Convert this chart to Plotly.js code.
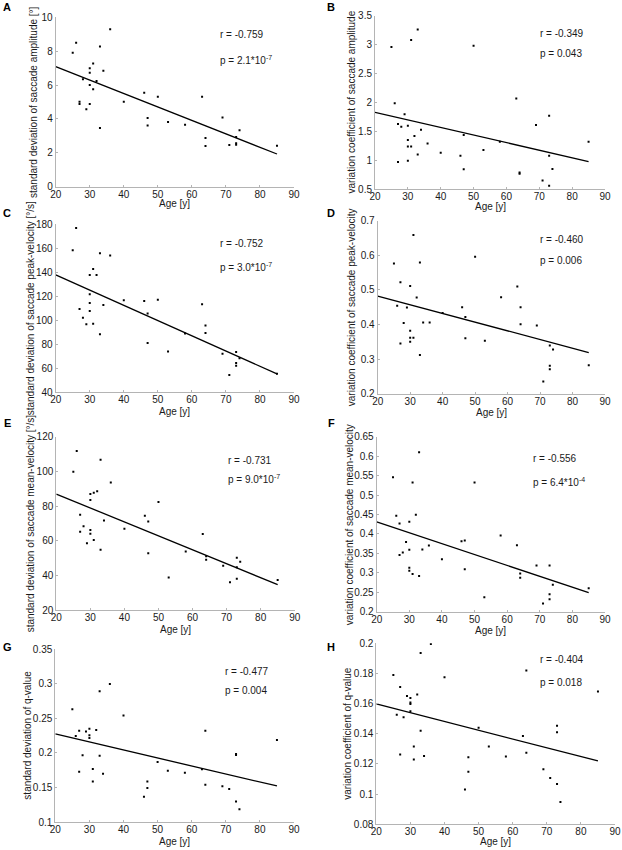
<!DOCTYPE html>
<html>
<head>
<meta charset="utf-8">
<script src="https://cdn.plot.ly/plotly-3.0.1.min.js"></script>
<style>
  html, body { margin: 0; padding: 0; background: #fff; }
  #chart { width: 622px; height: 850px; }
</style>
</head>
<body>
<div id="chart"></div>
<script>
// ages [y] and values
const ageA = [25,26,36,33,31,30,30,34,28,32,30,31,27,27,30,29,33,40,46,50,47,47,53,58,63,64,64,69,71,73,73,73,74,85];
const valA = [7.91,8.5,9.29,8.27,7.28,6.99,6.73,6.85,6.34,6.24,6.0,5.75,5.02,4.88,4.88,4.57,3.46,5.02,5.55,5.31,4.06,3.62,3.82,3.66,5.31,2.87,2.40,4.09,2.46,2.93,2.56,2.48,3.33,2.42];

const ageB = [25,31,33,50,26,29,27,28,30,34,30,32,30,31,36,33,27,30,40,46,47,47,53,58,63,64,64,69,71,73,73,73,74,85];
const valB = [2.96,3.08,3.26,2.98,1.985,1.795,1.63,1.58,1.60,1.53,1.35,1.42,1.24,1.24,1.29,1.10,0.97,0.995,1.13,1.08,1.44,0.845,1.18,1.32,2.07,0.79,0.77,1.61,0.65,1.77,1.08,0.56,0.85,1.32];

const ageC = [25,26,33,36,31,30,32,30,30,30,34,27,28,29,31,33,40,46,50,47,47,53,58,63,64,64,69,71,73,73,73,74,85];
const valC = [158.3,177,155.8,153.9,142.8,137.8,137.8,121.7,114.4,107.8,112.8,109.4,102.2,96.7,97.2,88.3,116.7,116.1,117.2,105.6,81.1,73.9,88.9,113.3,95.6,89.4,72.2,54.4,73.6,64.4,62.2,68.3,55.5];

const ageD = [25,31,33,50,27,30,26,29,32,28,34,36,30,30,31,30,27,33,40,46,47,47,53,58,63,64,64,69,71,73,73,73,74,85];
const valD = [0.576,0.659,0.579,0.596,0.522,0.511,0.454,0.449,0.478,0.404,0.406,0.406,0.382,0.362,0.362,0.350,0.345,0.312,0.433,0.450,0.422,0.360,0.353,0.479,0.510,0.450,0.401,0.397,0.235,0.339,0.281,0.271,0.328,0.282];

const ageE = [25,26,33,36,32,31,30,30,27,34,28,30,30,27,31,29,33,40,46,47,47,50,53,58,63,64,64,69,71,73,73,73,74,85];
const valE = [99.8,111.7,106.7,93.5,88.5,87.7,86.9,83.5,75.0,71.7,68.3,66.2,64.0,65.2,60.4,58.5,54.8,66.9,74.4,71.0,52.7,82.3,38.7,53.7,63.8,49.0,51.0,45.6,36.0,50.2,44.6,38.1,47.9,37.3];

const ageF = [25,33,31,50,26,32,27,30,29,30,28,27,34,36,30,30,31,33,40,46,47,47,53,58,63,64,64,69,71,73,73,73,74,85];
const valF = [0.546,0.610,0.532,0.532,0.447,0.449,0.427,0.431,0.379,0.359,0.352,0.346,0.360,0.370,0.313,0.305,0.297,0.292,0.335,0.381,0.383,0.309,0.237,0.396,0.371,0.298,0.287,0.319,0.221,0.319,0.245,0.232,0.269,0.260];

const ageG = [25,36,33,40,27,26,29,30,30,30,32,28,33,31,34,27,31,50,53,58,47,47,46,63,64,64,69,71,73,73,73,74,85];
const valG = [0.263,0.2995,0.289,0.254,0.232,0.2245,0.231,0.235,0.2255,0.2216,0.233,0.1966,0.196,0.177,0.170,0.173,0.159,0.187,0.1745,0.1716,0.1587,0.1495,0.137,0.1764,0.232,0.154,0.152,0.148,0.1986,0.197,0.130,0.119,0.2188];

const ageH = [25,36,33,40,64,27,29,32,30,30,30,30,26,28,33,31,31,27,34,50,53,58,63,64,47,47,46,69,71,73,73,73,74,85];
const valH = [0.179,0.1996,0.1936,0.1775,0.1819,0.171,0.165,0.166,0.1638,0.1607,0.1598,0.155,0.1527,0.151,0.142,0.1315,0.1229,0.1262,0.1253,0.144,0.1315,0.1249,0.1386,0.1275,0.1244,0.1149,0.103,0.1165,0.1107,0.1454,0.141,0.1067,0.0948,0.168];

// regression lines, value at age 20 and age 85
const fitAge = [20, 85];
const fitA = [7.09, 1.93];
const fitB = [1.83, 0.98];
const fitC = [137.8, 55.3];
const fitD = [0.482, 0.319];
const fitE = [86.9, 34.6];
const fitF = [0.431, 0.249];
const fitG = [0.2274, 0.1524];
const fitH = [0.1598, 0.122];

const letters = ["A", "B", "C", "D", "E", "F", "G", "H"];
const rText = ["r = -0.759", "r = -0.349", "r = -0.752", "r = -0.460", "r = -0.731", "r = -0.556", "r = -0.477", "r = -0.404"];
const pText = ["p = 2.1*10<sup>-7</sup>", "p = 0.043", "p = 3.0*10<sup>-7</sup>", "p = 0.006",
               "p = 9.0*10<sup>-7</sup>", "p = 6.4*10<sup>-4</sup>", "p = 0.004", "p = 0.018"];
const xTitle = "Age [y]";
const yTitles = [
  "standard deviation of saccade amplitude [°]",
  "variation coefficient of saccade amplitude",
  "standard deviation of saccade peak-velocity [°/s]",
  "variation coefficient of saccade peak-velocity",
  "standard deviation of saccade mean-velocity [°/s]",
  "variation coefficient of saccade mean-velocity",
  "standard deviation of q-value",
  "variation coefficient of q-value"
];
const yRanges = [[0, 10], [0.5, 3.5], [40, 180], [0.2, 0.7], [20, 120], [0.2, 0.65], [0.1, 0.35], [0.08, 0.2]];
const yDticks = [2, 0.5, 20, 0.1, 20, 0.05, 0.05, 0.02];

const ages = [ageA, ageB, ageC, ageD, ageE, ageF, ageG, ageH];
const vals = [valA, valB, valC, valD, valE, valF, valG, valH];
const fits = [fitA, fitB, fitC, fitD, fitE, fitF, fitG, fitH];

// plot boxes in page pixels: [left, right, top, bottom]
const boxes = [
  [55.7, 294, 17.3, 186.7], [375, 605, 15.7, 189.3],
  [55.7, 294, 224.3, 392.3], [377.7, 605, 220.7, 393.7],
  [56.3, 294.7, 436.7, 610], [376.7, 605, 436.7, 611.7],
  [55.3, 294, 649, 822.3], [376.3, 615, 643.3, 824.3]
];
// y-title column (page px) and x-title row offset below the axis
const yTitleX = [33, 351, 30, 351, 30, 349, 28, 348];
const xTitleDy = [16.5, 17, 19, 18.5, 19, 19, 19, 17.5];
// where the r / p text sits, in data units (age, r-line y, p-line y)
const statPos = [[67.8, 8.96, 7.48], [69.5, 3.19, 2.84], [67.8, 164, 144.7], [69.3, 0.646, 0.586],
                 [69.9, 106.5, 95.6], [67.3, 0.594, 0.534], [69.1, 0.317, 0.290], [67.5, 0.189, 0.174]];
const letterPos = [[7, 7], [331, 7], [7, 213], [331, 213], [7, 423], [331, 423], [7, 647], [331, 647]];

const W = 622, H = 850;
const font = "Arial, 'Liberation Sans', sans-serif";
const ink = "#1a1a1a", axisGray = "#b4b4b4";

const traces = [], annotations = [];
const layout = {
  width: W, height: H,
  margin: { l: 0, r: 0, t: 0, b: 0 },
  paper_bgcolor: "#fff", plot_bgcolor: "#fff",
  showlegend: false,
  font: { family: font, color: ink, size: 10 }
};

ages.forEach((a, i) => {
  const n = i === 0 ? "" : i + 1;
  const xa = "x" + n, ya = "y" + n;
  const b = boxes[i];
  traces.push({
    x: a, y: vals[i], xaxis: xa, yaxis: ya, type: "scatter", mode: "markers",
    marker: { symbol: "square", size: 2, color: "#000" }, hoverinfo: "x+y"
  });
  traces.push({
    x: fitAge, y: fits[i], xaxis: xa, yaxis: ya, type: "scatter", mode: "lines",
    line: { color: "#000", width: 1.3 }, hoverinfo: "skip"
  });
  const common = {
    showgrid: false, zeroline: false, showline: true, linecolor: axisGray, linewidth: 1,
    ticks: "inside", ticklen: 2, tickcolor: axisGray, mirror: false,
    tickfont: { family: font, size: 10, color: ink }
  };
  layout["xaxis" + n] = {
    ...common, anchor: ya, domain: [b[0] / W, b[1] / W],
    range: [20, 90], tick0: 20, dtick: 10, ticklabelstandoff: -2
  };
  layout["yaxis" + n] = {
    ...common, anchor: xa, domain: [1 - b[3] / H, 1 - b[2] / H],
    range: yRanges[i], tick0: yRanges[i][0], dtick: yDticks[i], ticklabelstandoff: 0
  };
  const tf = { family: font, size: 10, color: ink };
  annotations.push({ xref: "paper", yref: "paper", x: (b[0] + b[1]) / 2 / W, y: 1 - (b[3] + xTitleDy[i]) / H,
    text: xTitle, showarrow: false, xanchor: "center", yanchor: "middle", font: tf });
  annotations.push({ xref: "paper", yref: "paper", x: yTitleX[i] / W, y: 1 - (b[2] + b[3]) / 2 / H,
    text: yTitles[i], textangle: -90, showarrow: false, xanchor: "center", yanchor: "middle", font: tf });
  const s = statPos[i];
  annotations.push({ xref: xa, yref: ya, x: s[0], y: s[1], text: rText[i], showarrow: false,
    xanchor: "left", yanchor: "middle", font: tf });
  annotations.push({ xref: xa, yref: ya, x: s[0], y: s[2], text: pText[i], showarrow: false,
    xanchor: "left", yanchor: "middle", font: tf });
  annotations.push({ xref: "paper", yref: "paper", x: letterPos[i][0] / W, y: 1 - letterPos[i][1] / H,
    text: "<b>" + letters[i] + "</b>", showarrow: false, xanchor: "center", yanchor: "middle",
    font: { family: font, size: 11, color: "#000" } });
});
layout.annotations = annotations;

Plotly.newPlot("chart", traces, layout, { displayModeBar: false, staticPlot: true });
</script>
</body>
</html>
